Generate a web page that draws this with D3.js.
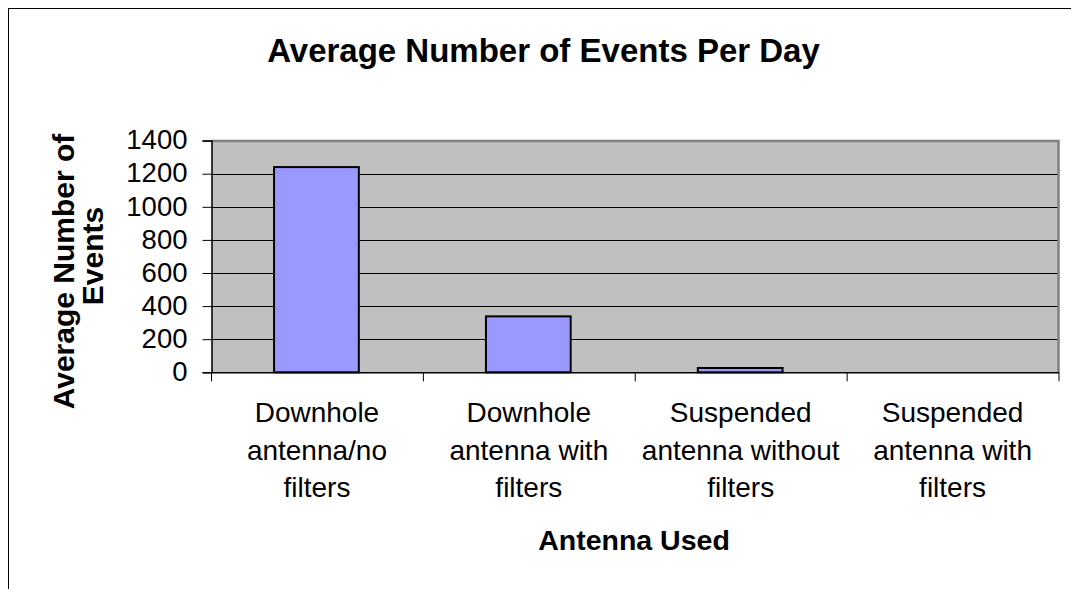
<!DOCTYPE html>
<html>
<head>
<meta charset="utf-8">
<script src="https://cdn.jsdelivr.net/npm/d3@7"></script>
<style>
  body { margin: 0; background: #fff; }
  svg { display: block; font-family: "Liberation Sans", Arial, sans-serif; }
</style>
</head>
<body>
<svg width="1071" height="589"></svg>
<script>
var categories = [
    ["Downhole", "antenna/no", "filters"],
    ["Downhole", "antenna with", "filters"],
    ["Suspended", "antenna without", "filters"],
    ["Suspended", "antenna with", "filters"]
];
var values = [1240, 338, 26, 0];
var yTicks = [0, 200, 400, 600, 800, 1000, 1200, 1400];

var svg = d3.select('svg');

var plot = { left: 211.5, right: 1059, top: 140.6, bottom: 372.3 };

// outer chart border (runs off the bottom/right of the picture)
svg.append('rect')
    .attr('x', 8.5).attr('y', 8.5)
    .attr('width', 1100).attr('height', 620)
    .attr('fill', '#fff').attr('stroke', '#000').attr('stroke-width', 1);

var x = d3.scaleBand()
    .domain(d3.range(categories.length))
    .range([plot.left, plot.right])
    .paddingInner(0.6)
    .paddingOuter(0.3);

var xCat = d3.scaleBand()
    .domain(d3.range(categories.length))
    .range([plot.left, plot.right]);

var y = d3.scaleLinear()
    .domain([0, 1400])
    .range([plot.bottom, plot.top]);

// plot background
svg.append('rect')
    .attr('x', plot.left).attr('y', plot.top)
    .attr('width', plot.right - plot.left).attr('height', plot.bottom - plot.top)
    .attr('fill', '#c0c0c0');

// gridlines
svg.append('g').selectAll('line')
    .data(yTicks.filter(function (t) { return t > 0 && t < 1400; }))
    .enter().append('line')
    .attr('x1', plot.left).attr('x2', plot.right)
    .attr('y1', function (d) { return Math.round(y(d)) + 0.5; })
    .attr('y2', function (d) { return Math.round(y(d)) + 0.5; })
    .attr('stroke', '#000').attr('stroke-width', 1);

// top and right border of plot area
svg.append('path')
    .attr('d', 'M' + plot.left + ',' + (plot.top + 0.5) + 'H' + (plot.right - 0.5) + 'V' + plot.bottom)
    .attr('fill', 'none').attr('stroke', '#808080').attr('stroke-width', 2.5);

// bars
svg.append('g').selectAll('rect')
    .data(values.map(function (v, i) { return { i: i, v: v }; }).filter(function (d) { return d.v > 0; }))
    .enter().append('rect')
    .attr('x', function (d) { return x(d.i) - 1; })
    .attr('width', x.bandwidth())
    .attr('y', function (d) { return y(d.v); })
    .attr('height', function (d) { return y(0) - y(d.v); })
    .attr('fill', '#9999ff')
    .attr('stroke', '#000')
    .attr('stroke-width', 2);

// y axis
var yAxis = d3.axisLeft(y)
    .tickValues(yTicks)
    .tickSize(9)
    .tickPadding(15)
    .tickFormat(d3.format('d'));
var gy = svg.append('g')
    .attr('transform', 'translate(' + plot.left + ',0)')
    .call(yAxis);
gy.select('.domain').attr('stroke', '#000').attr('stroke-width', 1.5);
gy.selectAll('.tick line').attr('stroke', '#000');
gy.selectAll('.tick text')
    .attr('font-size', 27.5)
    .attr('font-family', '"Liberation Sans", Arial, sans-serif')
    .attr('fill', '#000')
    .attr('dy', '0.3em');

// x axis line + category ticks
svg.append('line')
    .attr('x1', plot.left).attr('x2', plot.right)
    .attr('y1', plot.bottom + 0.5).attr('y2', plot.bottom + 0.5)
    .attr('stroke', '#000').attr('stroke-width', 1.5);
svg.append('g').selectAll('line')
    .data(d3.range(categories.length + 1))
    .enter().append('line')
    .attr('x1', function (i) { return i < categories.length ? xCat(i) : plot.right; })
    .attr('x2', function (i) { return i < categories.length ? xCat(i) : plot.right; })
    .attr('y1', plot.bottom).attr('y2', plot.bottom + 9)
    .attr('stroke', '#000').attr('stroke-width', 1);

// category labels
var labels = svg.append('g').selectAll('text')
    .data(categories)
    .enter().append('text')
    .attr('text-anchor', 'middle')
    .attr('font-size', 28)
    .attr('fill', '#000')
    .attr('transform', function (d, i) {
        return 'translate(' + (xCat(i) + xCat.bandwidth() / 2 - 0.5) + ',0)';
    });
labels.selectAll('tspan')
    .data(function (d) { return d; })
    .enter().append('tspan')
    .attr('x', 0)
    .attr('y', function (d, j) { return 422 + j * 37.7; })
    .text(function (d) { return d; });

// title
svg.append('text')
    .attr('x', 543.5).attr('y', 62)
    .attr('text-anchor', 'middle')
    .attr('font-size', 33)
    .attr('font-weight', 'bold')
    .text('Average Number of Events Per Day');

// x axis title
svg.append('text')
    .attr('x', 634).attr('y', 550)
    .attr('text-anchor', 'middle')
    .attr('font-size', 28.5)
    .attr('font-weight', 'bold')
    .text('Antenna Used');

// y axis title (two lines)
svg.append('text')
    .attr('transform', 'translate(74,271.5) rotate(-90)')
    .attr('text-anchor', 'middle')
    .attr('font-size', 30)
    .attr('font-weight', 'bold')
    .text('Average Number of');
svg.append('text')
    .attr('transform', 'translate(103,256) rotate(-90)')
    .attr('text-anchor', 'middle')
    .attr('font-size', 30)
    .attr('font-weight', 'bold')
    .text('Events');
</script>
</body>
</html>
